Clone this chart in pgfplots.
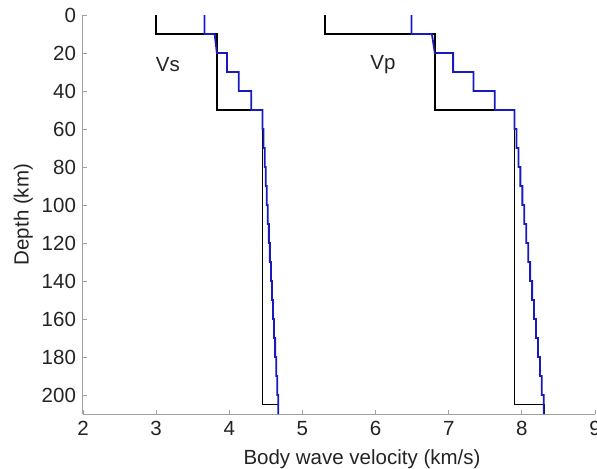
\documentclass[border=0pt]{standalone}
\usepackage{pgfplots}
\pgfplotsset{compat=1.18}
\usepackage{fontspec}
\setmainfont{Liberation Sans}
\definecolor{axisgray}{RGB}{160,160,160}
\definecolor{labelgray}{RGB}{35,35,35}
\definecolor{modelblue}{RGB}{25,25,190}
\newcommand{\chartfont}{\fontsize{10.25}{12}\selectfont}

\begin{document}
\begin{tikzpicture}
\begin{axis}[
  scale only axis, width=256pt, height=199.5pt,
  at={(0,0)}, anchor=south west,
  xmin=2, xmax=9, ymin=0, ymax=210, y dir=reverse,
  xtick={2,...,9}, ytick={0,20,...,200},
  axis x line*=bottom, axis y line*=left,
  axis line style={axisgray, line width=0.5pt, -},
  tick align=inside, major tick length=2pt,
  tick style={axisgray, line width=0.4pt},
  /pgf/number format/assume math mode=true,
  ticklabel style={font=\chartfont, text=labelgray},
  label style={font=\chartfont, text=labelgray},
  xlabel={Body wave velocity (km/s)},
  ylabel={Depth (km)},
  xlabel style={xshift=11.5pt},
  ylabel style={yshift=-2.5pt},
]
% reference model: Vs and Vp
\addplot[black, line width=0.75pt] coordinates {
  (3.00,0) (3.00,10) (3.83,10) (3.83,50) (4.455,50) (4.455,205) (4.67,205) (4.67,210)};
\addplot[black, line width=0.75pt] coordinates {
  (5.31,0) (5.31,10) (6.81,10) (6.81,50) (7.90,50) (7.90,205) (8.30,205) (8.30,210)};
% layered model: Vs
\addplot[modelblue, line width=0.9pt] coordinates {
  (3.66,0) (3.66,10) (3.80,10) (3.83,20) (3.97,20) (3.97,30) (4.13,30) (4.13,40)
  (4.30,40) (4.30,50) (4.455,50)
  (4.455,60) (4.469,60) (4.469,70) (4.484,70) (4.484,80) (4.498,80) (4.498,90)
  (4.512,90) (4.512,100) (4.527,100) (4.527,110) (4.541,110) (4.541,120)
  (4.555,120) (4.555,130) (4.569,130) (4.569,140) (4.584,140) (4.584,150)
  (4.598,150) (4.598,160) (4.612,160) (4.612,170) (4.627,170) (4.627,180)
  (4.641,180) (4.641,190) (4.655,190) (4.655,200) (4.670,200) (4.670,210)};
% layered model: Vp
\addplot[modelblue, line width=0.9pt] coordinates {
  (6.49,0) (6.49,10) (6.77,10) (6.81,20) (7.06,20) (7.06,30) (7.34,30) (7.34,40)
  (7.63,40) (7.63,50) (7.900,50)
  (7.900,60) (7.927,60) (7.927,70) (7.953,70) (7.953,80) (7.980,80) (7.980,90)
  (8.007,90) (8.007,100) (8.033,100) (8.033,110) (8.060,110) (8.060,120)
  (8.087,120) (8.087,130) (8.113,130) (8.113,140) (8.140,140) (8.140,150)
  (8.167,150) (8.167,160) (8.193,160) (8.193,170) (8.220,170) (8.220,180)
  (8.247,180) (8.247,190) (8.273,190) (8.273,200) (8.300,200) (8.300,210)};
\node[font=\chartfont, text=labelgray] at (axis cs:3.16,26) {Vs};
\node[font=\chartfont, text=labelgray] at (axis cs:6.10,26) {Vp};
\end{axis}
\pgfresetboundingbox
\useasboundingbox (-41.5pt,-27pt) rectangle (257pt,207pt);
\end{tikzpicture}
\end{document}
